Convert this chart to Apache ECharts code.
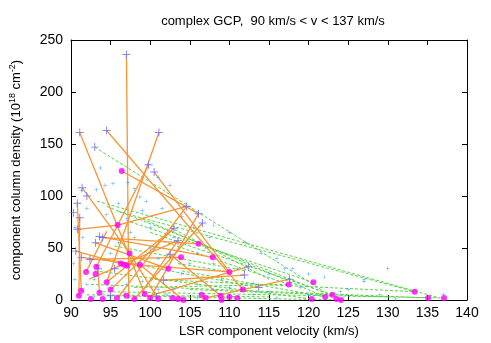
<!DOCTYPE html>
<html>
<head>
<meta charset="utf-8">
<script src="https://cdn.jsdelivr.net/npm/echarts@6/dist/echarts.min.js"></script>
<style>
  html, body { margin: 0; padding: 0; background: #fff; }
  #chart { width: 491px; height: 343px; }
</style>
</head>
<body>
<div id="chart"></div>
<script>
// axis ticks
var xTicks = [90, 95, 100, 105, 110, 115, 120, 125, 130, 135, 140];
var yTicks = [0, 50, 100, 150, 200, 250];

// orange solid segments: [v1, N1, v2, N2]
var orangeSegs = [
  [97.0, 236, 97.3, 1],
  [91.1, 161, 99.3, 6],
  [94.5, 163, 111.7, 10],
  [101.1, 161, 94.5, 17],
  [99.8, 130, 93.2, 32],
  [100.5, 123, 110.0, 27],
  [96.4, 124, 106.1, 83],
  [91.4, 108, 97.4, 45],
  [90.8, 93, 91.3, 9],
  [91.1, 79, 91.0, 4],
  [90.8, 68, 95.9, 72],
  [95.9, 72, 104.6, 90],
  [93.6, 61, 107.9, 41],
  [94.0, 60, 106.1, 54],
  [93.1, 55, 102.3, 30],
  [90.6, 47, 96.3, 35],
  [91.3, 41, 98.7, 34],
  [92.4, 39, 103.9, 41],
  [93.4, 30, 93.6, 7],
  [103.0, 69, 94.5, 17],
  [103.5, 57, 92.3, 20],
  [104.6, 90, 96.0, 3],
  [106.1, 83, 100.0, 2],
  [106.6, 74, 98.0, 1],
  [102.5, 44, 108.9, 4],
  [101.7, 19, 111.9, 24],
  [112.4, 32, 99.5, 3],
  [117.6, 20, 106.5, 1],
  [96.3, 35, 110.0, 27],
  [97.4, 45, 101.0, 1],
  [98.7, 34, 104.2, 0],
  [95.0, 10, 103.0, 69],
  [94.5, 66, 91.9, 27],
  [99.0, 8, 103.5, 57]
];

// green dashed segments: [v1, N1, v2, N2]
var greenSegs = [
  [93.0, 147, 122.0, 8],
  [93.3, 95, 136.5, 2],
  [94.5, 90, 124.0, 1],
  [96.0, 85, 133.4, 8],
  [97.5, 75, 120.6, 17],
  [99.0, 78, 122.1, 3],
  [100.0, 65, 123.0, 5],
  [101.0, 58, 117.5, 15],
  [102.5, 70, 115.0, 20],
  [95.5, 52, 112.0, 28],
  [94.0, 40, 113.7, 12],
  [93.0, 28, 120.4, 1],
  [92.5, 15, 135.1, 2],
  [94.0, 8, 137.1, 2],
  [96.0, 4, 124.1, 0],
  [98.0, 12, 117.5, 15],
  [100.0, 20, 133.4, 8],
  [104.0, 28, 122.1, 3],
  [105.0, 10, 130.0, 3],
  [92.0, 5, 115.0, 3],
  [103.5, 35, 110.0, 27]
];

// magenta filled dots
var magentaPts = [
  [96.4, 124], [95.9, 72], [97.4, 45], [96.3, 35], [96.7, 34], [97.1, 33], [98.7, 34],
  [91.9, 27], [93.2, 32], [93.1, 25], [94.5, 17], [91.3, 9], [91.0, 4], [93.6, 7],
  [95.0, 10], [97.0, 4], [98.0, 1], [99.3, 6], [100.0, 2], [101.0, 1], [102.3, 30],
  [103.9, 41], [106.1, 54], [107.9, 41], [110.0, 27], [111.7, 10], [106.5, 5],
  [108.9, 4], [109.0, 0], [110.0, 3], [111.0, 2], [104.2, 0], [102.8, 2], [117.5, 15],
  [120.6, 17], [122.1, 3], [123.0, 5], [123.5, 1], [124.1, 0], [120.4, 1], [133.4, 8],
  [135.1, 2], [137.1, 2], [94.0, 1], [95.8, 2], [92.5, 1], [103.5, 1], [107.0, 2]
];

// purple crosses
var plusPts = [
  [97.0, 236], [91.1, 161], [94.5, 163], [101.1, 161], [93.0, 147], [99.8, 130],
  [100.5, 123], [91.4, 108], [90.8, 93], [91.1, 79], [90.8, 68], [93.6, 61], [94.0, 60],
  [93.1, 55], [90.6, 47], [91.3, 41], [92.4, 39], [93.4, 30], [95.5, 30], [104.6, 90],
  [106.1, 83], [106.6, 74], [103.0, 69], [103.5, 57], [102.5, 44], [101.7, 19],
  [112.4, 32], [111.9, 24], [113.7, 12], [117.6, 20], [90.3, 84], [92.0, 100],
  [100.8, 3], [95.0, 4]
];

// small blue points
var bluePts = [
  [93.7, 127], [95.3, 112], [94.3, 110], [93.2, 106], [91.3, 105], [98.0, 107], [97.2, 113],
  [98.7, 99], [101, 118], [102.5, 110], [99.5, 95], [96, 93], [92, 88], [94.5, 82],
  [97, 78], [99, 86], [101.5, 88], [104, 80], [105.5, 70], [107.5, 60], [108, 72],
  [110, 65], [112, 55], [114, 45], [116, 40], [118, 30], [120, 25], [122, 22], [127, 18],
  [130, 30], [127, 20], [125, 10], [119, 12], [115, 8], [113, 5], [111, 30], [109, 20],
  [108, 10], [106, 15], [105, 35], [104, 25], [103, 10], [101, 40], [100, 50], [98, 60],
  [96, 55], [95, 45], [93, 20], [92, 15], [91.5, 60], [90.5, 70], [90.3, 35], [90.5, 20],
  [93, 3], [95, 2], [97, 15], [99, 18], [101, 10], [102, 5], [104, 3], [106, 2], [110, 12],
  [113, 16], [116, 2], [120, 5], [124, 8], [129, 5], [137, 5], [131, 1], [100, 70],
  [97.5, 65], [103, 60], [106, 45], [108, 35], [115, 25], [117, 30], [107, 50]
];

var PLUS = 'path://M4.4,0h1.2v10h-1.2zM0,4.4h10v1.2h-10z';
var FONT = 'Liberation Sans';

function toLines(segs) {
  return segs.map(function (s) {
    return { coords: [[s[0], s[1]], [s[2], s[3]]] };
  });
}

var chart = echarts.init(document.getElementById('chart'), null, { renderer: 'canvas' });

var axisCommon = {
  type: 'value',
  splitLine: { show: false },
  axisLine: { show: true, onZero: false, lineStyle: { color: '#000', width: 1 } },
  axisTick: { show: true, inside: true, length: 5, lineStyle: { color: '#000' } }
};

chart.setOption({
  animation: false,
  title: {
    text: 'complex GCP,  90 km/s < v < 137 km/s',
    left: 268,
    top: 10,
    textAlign: 'center',
    textStyle: { fontFamily: FONT, fontSize: 13, fontWeight: 'normal', color: '#000' }
  },
  grid: { left: 69, right: 24, top: 40, bottom: 42 },
  xAxis: [
    Object.assign({}, axisCommon, {
      min: xTicks[0], max: xTicks[xTicks.length - 1], interval: 5,
      position: 'bottom',
      name: 'LSR component velocity (km/s)',
      nameLocation: 'middle', nameGap: 25,
      nameTextStyle: { fontFamily: FONT, fontSize: 13, color: '#000' },
      axisLabel: { fontFamily: FONT, fontSize: 14, color: '#000', margin: 6 }
    }),
    Object.assign({}, axisCommon, {
      min: xTicks[0], max: xTicks[xTicks.length - 1], interval: 5,
      position: 'top',
      axisLabel: { show: false }
    })
  ],
  yAxis: [
    Object.assign({}, axisCommon, {
      min: yTicks[0], max: yTicks[yTicks.length - 1], interval: 50,
      position: 'left',
      name: '{a|component column density (10}{s|18}{a| cm}{s|-2}{a|)}',
      nameLocation: 'middle', nameGap: 47, nameRotate: 90,
      nameTextStyle: {
        rich: {
          a: { fontFamily: FONT, fontSize: 13, color: '#000', lineHeight: 16 },
          s: { fontFamily: FONT, fontSize: 9, color: '#000', verticalAlign: 'top', lineHeight: 16 }
        }
      },
      axisLabel: { fontFamily: FONT, fontSize: 14, color: '#000', margin: 8 }
    }),
    Object.assign({}, axisCommon, {
      min: yTicks[0], max: yTicks[yTicks.length - 1], interval: 50,
      position: 'right',
      axisLabel: { show: false }
    })
  ],
  series: [
    {
      type: 'lines',
      coordinateSystem: 'cartesian2d',
      data: toLines(greenSegs),
      lineStyle: { color: '#44cc33', width: 1, type: [3, 2], opacity: 0.9 },
      z: 2
    },
    {
      type: 'lines',
      coordinateSystem: 'cartesian2d',
      data: toLines(orangeSegs),
      lineStyle: { color: '#fa9433', width: 1.3, opacity: 1 },
      z: 3
    },
    {
      type: 'scatter',
      data: bluePts,
      symbol: PLUS,
      symbolSize: 4,
      itemStyle: { color: '#3d9cf0', opacity: 0.9 },
      z: 4
    },
    {
      type: 'scatter',
      data: plusPts,
      symbol: PLUS,
      symbolSize: 8,
      itemStyle: { color: '#6e6ef0', opacity: 0.85 },
      z: 5
    },
    {
      type: 'scatter',
      data: magentaPts,
      symbol: 'circle',
      symbolSize: 6,
      itemStyle: { color: '#ff00ff' },
      z: 6
    }
  ]
});
</script>
</body>
</html>
